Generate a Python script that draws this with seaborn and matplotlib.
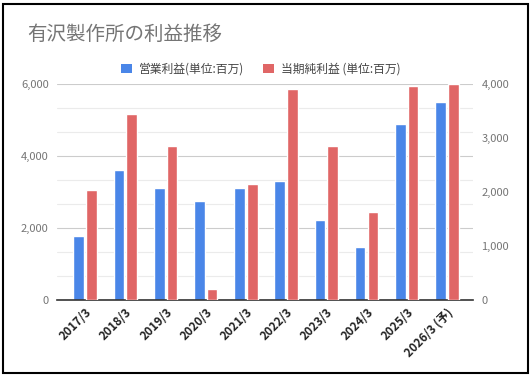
import numpy as np
import pandas as pd
import matplotlib
matplotlib.use('Agg')
import matplotlib.pyplot as plt
import matplotlib.ticker as mticker
from matplotlib.patches import Rectangle, Patch
import seaborn as sns

# data (単位: 百万円)
years = ['2017/3', '2018/3', '2019/3', '2020/3', '2021/3',
         '2022/3', '2023/3', '2024/3', '2025/3', '2026/3 (予)']
operating_profit = [1780, 3610, 3110, 2750, 3110, 3300, 2220, 1460, 4890, 5500]
net_profit = [2040, 3440, 2850, 200, 2150, 3910, 2850, 1630, 3960, 4000]
series_names = ['営業利益(単位:百万)', '当期純利益 (単位:百万)']
colors = ['#4a86e8', '#e06666']
title = '有沢製作所の利益推移'

sns.set_style('white')
plt.rcParams['font.family'] = ['Noto Sans CJK JP', 'DejaVu Sans']

df_op = pd.DataFrame({'year': years, 'value': operating_profit, 'series': series_names[0]})
df_net = pd.DataFrame({'year': years, 'value': net_profit, 'series': series_names[1]})
palette = dict(zip(series_names, colors))

fig = plt.figure(figsize=(5.32, 3.77), dpi=100)
ax = fig.add_axes([57 / 532, 1 - 300 / 377, 416 / 532, 216 / 377])
ax2 = ax.twinx()

# left axis: operating profit, right axis: net profit (same dodge slots)
sns.barplot(data=df_op, x='year', y='value', hue='series', hue_order=series_names, dodge=True,
            palette=palette, width=0.63, gap=0.16, saturation=1, legend=False, ax=ax)
sns.barplot(data=df_net, x='year', y='value', hue='series', hue_order=series_names, dodge=True,
            palette=palette, width=0.63, gap=0.16, saturation=1, legend=False, ax=ax2)

ax.set_xlim(-0.7, 9.65)
ax.set_ylim(0, 6000)
ax2.set_ylim(0, 4000)
ax.yaxis.set_major_locator(mticker.MultipleLocator(2000))
ax.yaxis.set_minor_locator(mticker.MultipleLocator(2000 / 3))
ax2.yaxis.set_major_locator(mticker.MultipleLocator(1000))
for a in (ax, ax2):
    a.yaxis.set_major_formatter(mticker.StrMethodFormatter('{x:,.0f}'))
    a.set_xlabel('')
    a.set_ylabel('')
    a.tick_params(axis='y', which='both', length=0, labelsize=8, labelcolor='#757575', pad=6)
    for s in a.spines.values():
        s.set_visible(False)
ax2.grid(False)
ax.grid(which='major', axis='y', color='#cccccc', lw=0.8)
ax.grid(which='minor', axis='y', color='#ebebeb', lw=0.8)
ax.grid(axis='x', visible=False)
ax.set_axisbelow(True)
ax.spines['bottom'].set_visible(True)
ax.spines['bottom'].set_color('#333333')
ax.spines['bottom'].set_linewidth(1.2)

ax.tick_params(axis='x', length=0, pad=4)
plt.setp(ax.get_xticklabels(), rotation=45, ha='right', rotation_mode='anchor',
         fontsize=8.5, fontweight='bold', color='#222222')

fig.text(27 / 532, 1 - 40 / 377, title, fontsize=14, color='#757575', va='baseline')

handles = [Patch(facecolor=c, edgecolor='none') for c in colors]
fig.legend(handles, series_names, loc='center', bbox_to_anchor=(0.49, 1 - 69 / 377),
           ncol=2, frameon=False, handlelength=0.9, handleheight=0.9, handletextpad=0.6,
           columnspacing=1.6, fontsize=8.5, labelcolor='#444444')

fig.patches.append(Rectangle((3 / 532, 4 / 377), 525 / 532, 369 / 377, transform=fig.transFigure,
                             fill=False, edgecolor='black', lw=1.5))

fig.savefig('out.png', dpi=100)
